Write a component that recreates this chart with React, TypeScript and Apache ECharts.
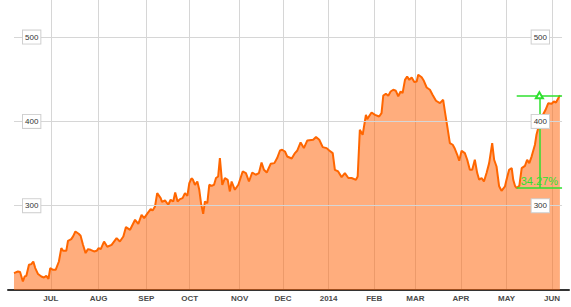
import React, { useEffect, useRef } from 'react';
import * as echarts from 'echarts';

// trading-day index (0 = first trading day shown, early June 2013)
const dayIdx = [
  0, 1.8, 2.8, 4.1, 4.9, 5.7, 6.9, 8.0, 8.9, 9.8,
  11.1, 12.6, 13.8, 14.9, 15.9, 16.7, 18.0, 19.2, 20.7, 21.8,
  22.6, 24.1, 24.9, 26.4, 27.3, 28.3, 29.8, 30.7, 31.8, 33.0,
  34.1, 35.3, 36.9, 38.1, 39.0, 40.0, 41.5, 43.0, 45.0, 47.3,
  48.8, 50.4, 51.6, 53.5, 55.8, 57.3, 58.8, 60.0, 61.6, 63.0,
  63.9, 65.0, 66.0, 67.6, 68.2, 69.6, 71.1, 72.2, 73.4, 74.3,
  75.4, 76.5, 77.7, 78.8, 79.9, 80.8, 81.8, 82.5, 83.4, 84.5,
  85.4, 86.2, 87.2, 88.0, 89.1, 90.0, 91.1, 92.2, 93.1, 94.1,
  94.9, 96.0, 97.2, 98.5, 99.5, 100.3, 101.8, 103.4, 105.4, 106.9,
  108.3, 109.8, 111.4, 112.9, 114.1, 115.2, 116.5, 118.3, 120.0, 121.3,
  122.6, 123.6, 124.9, 125.9, 128.0, 129.5, 130.6, 132.1, 133.6, 135.2,
  137.9, 139.2, 140.7, 142.3, 144.1, 145.3, 146.9, 147.9, 149.4, 151.0,
  152.5, 154.1, 155.6, 157.6, 158.4, 159.4, 160.7, 162.2, 162.8, 164.8,
  166.4, 168.3, 169.4, 170.2, 171.4, 172.5, 173.6, 174.8, 176.0, 177.1,
  178.2, 179.1, 180.2, 181.2, 182.2, 183.3, 184.5, 185.6, 186.3, 187.9,
  188.9, 190.2, 191.7, 192.9, 194.5, 196.3, 197.8, 198.6, 199.7, 200.9,
  202.2, 203.2, 204.3, 205.2, 206.3, 207.8, 208.9, 210.1, 211.2, 212.4,
  213.5, 214.4, 215.5, 216.6, 217.8, 219.0, 220.4, 221.3, 222.4, 223.6,
  224.7, 226.3, 227.0, 228.2, 229.4, 230.1, 230.9, 231.7, 232.9, 234.0,
  235.5, 236.5, 237.5, 238.6, 240.1, 240.8, 241.6, 242.4, 243.8, 245.0,
  246.2, 247.8, 248.8, 249.8, 251.6,
];

const price = [
  220.1, 222.0, 221.3, 210.1, 216.0, 216.8, 229.9, 230.7, 233.8, 226.0,
  218.9, 216.0, 214.8, 216.8, 213.3, 226.0, 224.0, 224.0, 233.8, 249.7,
  246.5, 246.5, 258.4, 260.4, 263.9, 269.4, 266.7, 264.3, 253.6, 243.8,
  248.5, 247.7, 245.7, 246.5, 249.7, 248.5, 257.5, 251.3, 253.6, 261.6,
  257.5, 263.5, 274.6, 271.4, 283.3, 278.5, 289.2, 285.3, 291.2, 296.0,
  294.3, 299.1, 314.9, 309.0, 304.6, 306.2, 301.1, 307.0, 305.0, 315.7,
  305.0, 307.8, 309.0, 314.9, 311.7, 326.8, 332.5, 330.7, 324.8, 328.7,
  318.9, 303.1, 290.4, 305.0, 303.1, 324.8, 323.6, 324.8, 332.8, 334.7,
  356.5, 324.8, 332.8, 330.7, 316.9, 328.7, 318.9, 324.8, 340.6, 338.7,
  328.7, 339.4, 336.7, 338.7, 351.3, 342.6, 339.4, 349.7, 350.5, 356.5,
  365.5, 366.3, 364.3, 358.4, 356.0, 362.4, 365.5, 375.0, 368.3, 377.4,
  378.2, 381.4, 378.2, 369.5, 368.3, 365.5, 362.4, 342.6, 340.6, 333.9,
  338.7, 332.8, 332.8, 330.7, 334.6, 390.0, 384.1, 407.8, 402.7, 410.6,
  407.8, 405.8, 409.8, 430.7, 432.7, 430.4, 435.5, 437.5, 436.3, 429.8,
  435.5, 433.6, 449.3, 453.3, 449.3, 452.1, 446.6, 447.3, 455.3, 452.3,
  448.2, 440.2, 437.5, 431.6, 424.5, 421.7, 425.6, 411.8, 394.0, 374.3,
  372.3, 367.5, 360.4, 353.3, 365.1, 362.4, 354.5, 342.6, 342.6, 354.5,
  338.7, 330.7, 332.8, 328.7, 338.7, 350.5, 374.3, 354.5, 346.5, 323.0,
  317.7, 323.0, 330.7, 342.6, 344.6, 330.7, 323.6, 320.9, 323.6, 344.6,
  347.3, 354.5, 350.5, 358.6, 372.3, 384.1, 392.0, 397.9, 407.8, 413.8,
  421.5, 420.9, 423.6, 422.4, 430.9,
];

// first trading day of each month (index in dayIdx units)
const monthIdx = [17, 39, 61, 81, 104, 124, 145, 166, 185, 206, 227, 248];
const monthLabels = ['JUL', 'AUG', 'SEP', 'OCT', 'NOV', 'DEC', '2014', 'FEB', 'MAR', 'APR', 'MAY', 'JUN'];
const yTicks = [300, 400, 500];

// change annotation: from a local low to the latest point
const changeFromPos = 187;
const changeLabel = '34.27%';

const GREEN = '#2fe02f';

export default function App() {
  const ref = useRef<HTMLDivElement>(null);

  useEffect(() => {
    const chart = echarts.init(ref.current!, null, { renderer: 'svg' });
    const data = dayIdx.map((d, i) => [d, price[i]]);
    const lastPos = dayIdx.length - 1;
    const x0 = dayIdx[changeFromPos];
    const x1 = dayIdx[lastPos] + 1;
    const xm = (x0 + x1) / 2;
    const low = price[changeFromPos];
    const end = price[lastPos];
    const gridFrom = dayIdx[0];
    const gridTo = dayIdx[lastPos] + 1;

    const yLabel = (margin: number) => ({
      inside: true,
      margin,
      customValues: yTicks,
      fontSize: 8,
      fontFamily: 'Arial, "Liberation Sans", sans-serif',
      color: '#333',
      backgroundColor: '#fff',
      borderColor: '#cfcfcf',
      borderWidth: 1,
      padding: [2, 2, 2, 2],
      lineHeight: 9,
    });

    chart.setOption({
      animation: false,
      backgroundColor: '#fff',
      grid: { left: 8, right: 2, top: 0, bottom: 17, containLabel: false },
      xAxis: {
        type: 'value',
        min: -2.76,
        max: 255.8,
        axisLine: { onZero: false, lineStyle: { color: '#333', width: 2 } },
        axisTick: { show: false, customValues: monthIdx },
        axisLabel: {
          customValues: monthIdx,
          formatter: (v: number) => monthLabels[monthIdx.indexOf(v)] ?? '',
          fontSize: 8,
          fontWeight: 'bold',
          fontFamily: 'Arial, "Liberation Sans", sans-serif',
          color: '#4a4a4a',
          margin: 4,
        },
        splitLine: { show: true, lineStyle: { color: '#d6d6d6', width: 1 } },
      },
      yAxis: [
        {
          type: 'value', min: 200, max: 544, position: 'left', z: 10,
          axisLine: { show: false }, axisTick: { show: false }, splitLine: { show: false },
          axisLabel: yLabel(15),
        },
        {
          type: 'value', min: 200, max: 544, position: 'right', z: 10,
          axisLine: { show: false }, axisTick: { show: false }, splitLine: { show: false },
          axisLabel: yLabel(20),
        },
      ],
      series: [
        {
          type: 'line',
          data: [],
          z: 1,
          silent: true,
          markLine: {
            silent: true,
            symbol: ['none', 'none'],
            label: { show: false },
            lineStyle: { color: '#d6d6d6', width: 1, type: 'solid' },
            data: yTicks.map((v) => [{ coord: [gridFrom, v] }, { coord: [gridTo, v] }]),
          },
        },
        {
          type: 'line',
          data,
          z: 2,
          symbol: 'none',
          lineStyle: { color: '#ff6600', width: 2 },
          areaStyle: { color: '#ff640a', opacity: 0.53, origin: 'start' },
        },
        {
          type: 'line',
          data: [],
          z: 3,
          silent: true,
          markLine: {
            silent: true,
            symbol: ['none', 'none'],
            label: { show: false },
            lineStyle: { color: GREEN, width: 1.5, type: 'solid' },
            data: [
              [{ coord: [x0, low] }, { coord: [x1, low] }],
              [{ coord: [x0, end] }, { coord: [x1, end] }],
              [
                { coord: [xm, low], symbol: 'none' },
                { coord: [xm, end], symbol: 'emptyTriangle', symbolSize: [7, 6] },
              ],
            ],
          },
          markPoint: {
            silent: true,
            symbol: 'circle',
            symbolSize: 0,
            itemStyle: { color: 'transparent' },
            label: {
              show: true,
              position: 'top',
              distance: 2,
              formatter: changeLabel,
              color: GREEN,
              fontSize: 11,
              fontFamily: 'Arial, "Liberation Sans", sans-serif',
            },
            data: [{ coord: [xm, low] }],
          },
        },
      ],
    });

    return () => chart.dispose();
  }, []);

  return (
    <div
      ref={ref}
      style={{ position: 'absolute', left: 0, top: 0, width: 571, height: 307, background: '#fff' }}
    />
  );
}
